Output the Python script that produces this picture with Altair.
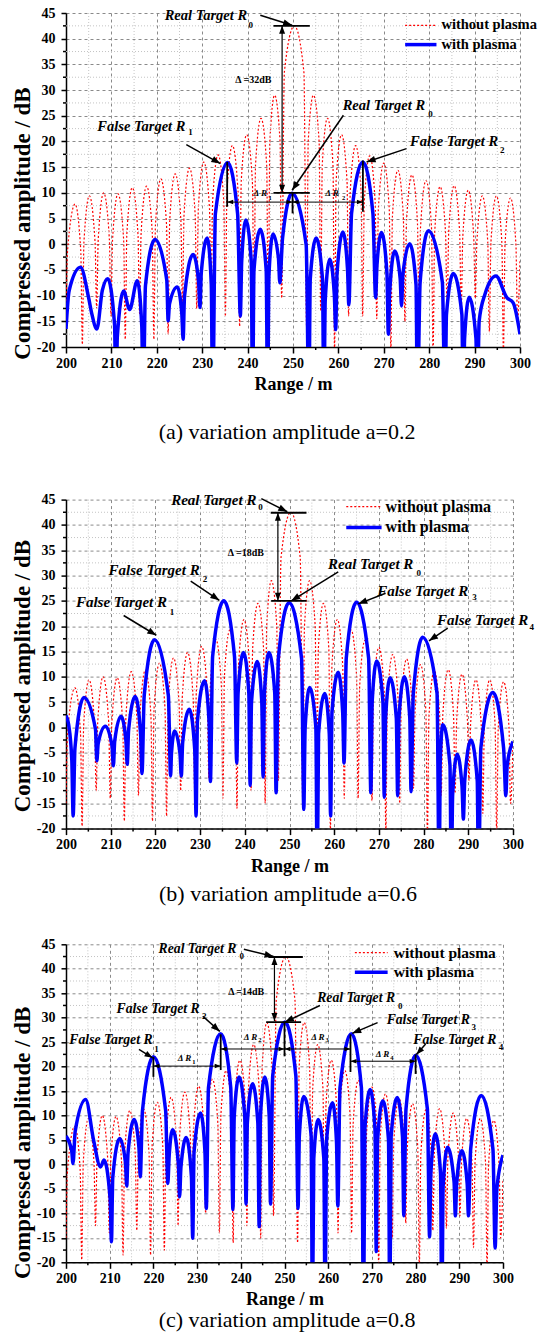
import math
import altair as alt
import pandas as pd

FONT = "Liberation Serif"
RED_COLOR = "#ff0000"
BLUE_COLOR = "#0000ff"

RANGE_MAJOR = [200, 210, 220, 230, 240, 250, 260, 270, 280, 290, 300]
RANGE_MINOR = [205, 215, 225, 235, 245, 255, 265, 275, 285, 295]
DB_MAJOR = [-20, -15, -10, -5, 0, 5, 10, 15, 20, 25, 30, 35, 40, 45]
DB_MINOR = [-17.5, -12.5, -7.5, -2.5, 2.5, 7.5, 12.5, 17.5, 22.5, 27.5, 32.5, 37.5, 42.5]

# "without plasma" (same in all three panels): (range m, dB)
RED_PTS = [(200.0, -15.0), (200.35, -1.2), (202.0, 7.8), (203.25, -1.2), (203.6, -19.5),
           (203.95, 0.4), (205.15, 9.4), (206.4, 0.4), (206.75, -12.5), (207.1, 1.0),
           (208.3, 10.0), (209.55, 1.0), (209.9, -14.0), (210.25, 0.8), (211.45, 9.8),
           (212.7, 0.8), (213.05, -18.5), (213.4, 2.0), (214.6, 11.0), (215.85, 2.0),
           (216.2, -13.5), (216.55, 2.3), (217.75, 11.3), (219.0, 2.3), (219.35, -18.5),
           (219.7, 3.7), (220.9, 12.7), (222.15, 3.7), (222.5, -17.5), (222.85, 4.7),
           (224.05, 13.7), (225.3, 4.7), (225.65, -12.5), (226.0, 5.8), (227.2, 14.8),
           (228.45, 5.8), (228.8, -12.5), (229.15, 7.0), (230.35, 16.0), (231.6, 7.0),
           (231.95, -10.0), (232.3, 8.4), (233.5, 17.4), (234.75, 8.4), (235.1, -14.0),
           (235.45, 10.2), (236.65, 19.2), (237.9, 10.2), (238.25, -16.0), (238.6, 12.3),
           (239.8, 21.3), (241.05, 12.3), (241.4, -12.5), (241.75, 15.5), (242.95, 24.5),
           (244.2, 15.5), (244.55, -15.0), (244.9, 20.0), (245.95, 29.0), (247.15, 20.0),
           (247.5, -10.5), (248.1, 33.5), (250.3, 42.5), (252.4, 33.5), (253.0, -16.0),
           (253.35, 20.0), (254.5, 29.0), (255.75, 20.0), (256.1, -13.0), (256.45, 15.5),
           (257.6, 24.5), (258.8, 15.5), (259.15, -20.5), (259.5, 12.3), (260.7, 21.3),
           (261.9, 12.3), (262.25, -14.0), (262.6, 10.2), (263.8, 19.2), (265.0, 10.2),
           (265.35, -14.0), (265.7, 8.2), (266.9, 17.2), (268.1, 8.2), (268.45, -14.5),
           (268.8, 6.8), (270.0, 15.8), (271.2, 6.8), (271.55, -20.5), (271.9, 5.4),
           (273.1, 14.4), (274.3, 5.4), (274.65, -15.0), (275.0, 4.5), (276.2, 13.5),
           (277.4, 4.5), (277.75, -12.0), (278.1, 3.4), (279.3, 12.4), (280.5, 3.4),
           (280.85, -21.0), (281.2, 2.2), (282.4, 11.2), (283.6, 2.2), (283.95, -13.5),
           (284.3, 2.4), (285.5, 11.4), (286.7, 2.4), (287.05, -13.0), (287.4, 1.5),
           (288.6, 10.5), (289.8, 1.5), (290.15, -10.5), (290.5, 0.4), (291.7, 9.4),
           (292.9, 0.4), (293.25, -17.0), (293.6, 0.4), (294.8, 9.4), (296.0, 0.4),
           (296.35, -21.0), (296.7, 0.0), (297.9, 9.0), (299.1, 0.0), (299.45, -15.0),
           (300.0, -3.0)]

# "with plasma", a = 0.2
BLUE_A = [(200.0, -16.5), (200.7, -9.0), (203.2, -4.5), (205.0, -10.5), (205.7, -13.6),
          (206.8, -16.5), (208.0, -9.0), (209.2, -6.7), (210.7, -15.7), (211.0, -32.0),
          (211.3, -18.1), (212.7, -9.1), (214.0, -12.7), (215.7, -7.1), (216.7, -16.1),
          (217.0, -32.0), (217.5, -8.1), (219.6, 0.9), (222.2, -7.0), (222.5, -14.9),
          (222.8, -11.6), (224.5, -8.3), (225.5, -13.4), (225.8, -18.5), (226.1, -10.2),
          (228.0, -2.0), (229.2, -7.2), (229.5, -12.3), (229.8, -5.5), (231.1, 1.2),
          (232.0, -7.8), (232.3, -32.0), (232.9, 5.9), (235.6, 15.9), (237.8, 5.9),
          (238.4, -14.0), (238.7, -3.3), (239.6, 4.7), (240.8, -3.3), (241.1, -32.0),
          (241.4, -5.1), (242.8, 2.9), (244.1, -5.1), (244.4, -32.0), (244.7, -6.0),
          (245.6, 2.0), (246.8, -2.75), (247.1, -7.5), (247.7, 1.2), (249.8, 9.9),
          (252.9, -0.1), (253.5, -32.0), (253.8, -6.8), (255.1, 1.2), (256.5, -6.8),
          (256.8, -32.0), (257.1, -10.9), (258.1, -2.9), (259.1, -9.75), (259.4, -16.6),
          (259.7, -5.6), (261.0, 2.4), (262.0, -4.7), (262.3, -11.8), (262.9, 6.0),
          (265.4, 16.0), (267.6, 6.0), (268.2, -10.4), (268.5, -4.0), (269.5, 2.3),
          (270.7, -5.7), (271.0, -17.5), (271.3, -9.3), (272.4, -1.3), (273.6, -6.65),
          (273.9, -12.0), (274.2, -5.95), (275.7, 0.1), (277.1, -7.9), (277.4, -32.0),
          (278.0, -7.4), (279.8, 2.6), (282.9, -7.4), (283.5, -32.0), (283.8, -13.7),
          (285.3, -5.7), (287.2, -13.7), (287.5, -32.0), (287.8, -18.3), (288.8, -10.3),
          (290.3, -18.3), (290.6, -32.0), (291.0, -15.0), (292.3, -9.7), (294.7, -6.2),
          (297.1, -10.4), (298.5, -11.4), (300.0, -17.5)]

# "with plasma", a = 0.6
BLUE_B = [(200.0, 2.3), (200.6, 0.5), (201.3, -6.5), (201.6, -17.5), (202.0, -4.1),
          (204.0, 5.9), (206.6, -0.4), (206.9, -6.6), (207.2, -3.2), (208.8, 0.2),
          (210.3, -3.7), (210.6, -7.6), (210.9, -2.7), (212.3, 2.2), (213.4, -2.55),
          (213.7, -7.3), (214.0, -0.6), (215.5, 6.1), (216.7, -1.5), (217.0, -9.1),
          (217.5, 6.3), (219.8, 17.3), (222.9, 6.3), (223.4, -9.6), (223.6, -5.1),
          (224.3, -0.7), (225.5, -5.15), (225.8, -9.6), (226.1, -3.0), (227.6, 3.6),
          (228.8, -4.4), (229.1, -17.5), (229.4, 1.2), (231.0, 9.2), (232.0, 1.2),
          (232.3, -10.7), (232.8, 14.0), (235.3, 25.0), (237.7, 14.0), (238.2, -7.1),
          (238.5, 6.8), (239.7, 14.8), (240.9, 6.8), (241.2, -11.5), (241.5, 5.0),
          (242.8, 13.0), (243.8, 5.0), (244.1, -9.8), (244.4, 6.8), (245.4, 14.8),
          (246.7, 6.8), (247.0, -12.9), (247.5, 13.6), (249.9, 24.6), (252.7, 13.6),
          (253.2, -16.2), (253.5, -0.1), (254.5, 7.9), (255.9, -0.1), (256.2, -32.0),
          (256.5, -1.3), (257.9, 6.7), (258.9, -1.3), (259.2, -17.5), (259.5, 2.9),
          (260.9, 10.9), (261.9, 2.9), (262.2, -7.1), (262.7, 13.7), (265.0, 24.7),
          (267.7, 13.7), (268.2, -12.9), (268.5, 5.1), (269.5, 13.1), (270.9, 5.1),
          (271.2, -13.8), (271.5, 1.8), (272.5, 9.8), (273.9, 1.8), (274.2, -13.5),
          (274.5, 2.0), (275.7, 10.0), (276.9, 2.0), (277.2, -12.7), (277.7, 6.8),
          (279.8, 17.8), (283.0, 6.8), (283.5, -32.0), (283.7, -7.5), (284.3, 0.5),
          (285.9, -7.5), (286.2, -32.0), (286.5, -13.3), (287.5, -5.3), (288.6, -11.7),
          (288.9, -18.1), (289.2, -10.5), (290.6, -2.5), (292.0, -10.5), (292.3, -32.0),
          (292.8, -4.1), (295.5, 6.9), (297.9, -4.1), (298.4, -13.5), (298.7, -7.5),
          (300.0, -2.8)]

# "with plasma", a = 0.8
BLUE_C = [(200.0, 5.8), (201.3, 2.8), (201.6, 0.2), (202.1, 6.75), (204.5, 13.3),
          (206.3, 5.0), (207.9, -0.5), (208.7, 0.9), (210.1, -7.1), (210.4, -15.8),
          (210.7, -2.7), (212.3, 5.3), (213.6, 0.45), (213.9, -4.4), (214.2, 2.4),
          (215.6, 9.2), (216.7, 3.35), (217.0, -2.5), (217.5, 11.0), (220.0, 22.0),
          (222.8, 11.0), (223.3, -3.9), (223.6, 1.6), (224.4, 7.1), (225.7, 0.25),
          (226.0, -6.6), (226.3, -0.55), (227.5, 5.5), (228.7, -2.5), (229.0, -15.1),
          (229.3, 2.5), (230.8, 10.5), (231.8, 2.5), (232.1, -9.0), (232.6, 15.7),
          (235.4, 26.7), (237.7, 15.7), (238.2, -9.2), (238.5, 9.9), (239.6, 17.9),
          (240.9, 9.9), (241.2, -8.1), (241.5, 8.5), (242.7, 16.5), (243.9, 8.5),
          (244.2, -12.7), (244.5, 9.9), (245.5, 17.9), (246.5, 9.9), (246.8, -8.1),
          (247.3, 18.1), (250.1, 29.1), (252.6, 18.1), (253.1, -9.0), (253.4, 5.9),
          (254.4, 13.9), (256.1, 5.9), (256.4, -32.0), (256.7, 1.2), (257.7, 9.2),
          (259.0, 1.2), (259.3, -32.0), (259.6, 4.6), (261.0, 12.6), (261.9, 4.6),
          (262.2, -8.5), (262.7, 15.7), (265.3, 26.7), (267.6, 15.7), (268.1, -32.0),
          (268.4, 7.3), (269.6, 15.3), (270.7, 7.3), (271.0, -17.8), (271.3, 5.0),
          (272.5, 13.0), (273.8, 5.0), (274.1, -32.0), (274.4, 5.7), (275.8, 13.7),
          (277.0, 5.7), (277.3, -10.5), (277.8, 11.3), (280.0, 22.3), (282.7, 11.3),
          (283.2, -14.8), (283.5, -1.7), (284.5, 6.3), (285.7, -1.7), (286.0, -32.0),
          (286.3, -4.5), (287.3, 3.5), (288.8, -3.5), (289.1, -10.5), (289.4, -3.85),
          (290.6, 2.8), (291.8, -3.85), (292.1, -10.5), (292.6, 3.1), (295.0, 14.1),
          (297.7, 3.1), (298.2, -17.1), (298.6, -5.0), (300.0, 1.9)]

# ---- annotations (data coordinates) ----
# segments: x1, y1, x2, y2, stroke width, arrow head ("", "end", "both"), head size
SEG_A = [(242.8, 44.55, 249.8, 42.6, 1.5, "end", 81),
         (245.7, 42.5, 253.7, 42.5, 1.8, "", 0),
         (247.6, 42.5, 247.6, 10.0, 1.2, "both", 64),
         (245.7, 10.0, 253.7, 10.0, 1.8, "", 0),
         (261.1, 25.1, 249.8, 10.5, 1.5, "end", 81),
         (226.5, 19.4, 234.0, 15.7, 1.5, "end", 81),
         (275.0, 18.6, 266.2, 16.0, 1.5, "end", 81),
         (235.5, 16.0, 235.5, 7.3, 1.8, "", 0),
         (249.9, 10.0, 249.9, 6.0, 1.8, "", 0),
         (265.4, 16.3, 265.4, 6.3, 1.8, "", 0),
         (235.5, 8.2, 249.9, 8.2, 1.0, "both", 36),
         (249.9, 8.2, 265.4, 8.2, 1.0, "both", 36)]
LBL_A = [(239.9, 44.4, "Real Target R"), (279.1, 26.85, "Real Target R"),
         (226.3, 22.8, "False Target R"), (295.2, 19.9, "False Target R")]
SUB_A = [(240.2, 42.6, "0"), (279.8, 25.4, "0"), (226.9, 21.85, "1"), (295.6, 18.3, "2")]
DB_A = [(237.3, 31.9, "Δ =32dB")]
DR_A = [(241.3, 9.9, "Δ R"), (257.1, 9.9, "Δ R")]
DRS_A = [(244.6, 9.0, "1"), (260.8, 9.0, "2")]
LEG_A = (274.7, 281.6, 282.7, 42.6, 38.85, 14.5)

SEG_B = [(243.7, 45.2, 249.5, 42.6, 1.5, "end", 81),
         (245.8, 42.4, 253.8, 42.4, 1.8, "", 0),
         (247.4, 42.4, 247.4, 25.0, 1.2, "both", 64),
         (245.9, 25.0, 253.8, 25.0, 1.8, "", 0),
         (260.9, 30.7, 250.4, 25.0, 1.5, "end", 81),
         (212.9, 22.1, 220.2, 18.2, 1.5, "end", 81),
         (227.9, 28.9, 234.3, 25.1, 1.5, "end", 81),
         (271.5, 26.5, 265.4, 24.4, 1.5, "end", 81),
         (285.4, 19.6, 281.2, 17.1, 1.5, "end", 81)]
LBL_B = [(242.6, 45.0, "Real Target R"), (277.7, 32.2, "Real Target R"),
         (222.6, 24.8, "False Target R"), (229.9, 31.1, "False Target R"),
         (290.0, 27.0, "False Target R"), (303.4, 21.2, "False Target R")]
SUB_B = [(243.0, 43.5, "0"), (278.4, 30.5, "0"), (223.2, 22.8, "1"), (230.6, 29.4, "2"),
         (290.9, 25.8, "3"), (303.7, 19.9, "4")]
DB_B = [(236.2, 34.5, "Δ =18dB")]
DR_B = []
DRS_B = []
LEG_B = (262.7, 270.6, 271.5, 43.6, 39.5, 16)

SEG_C = [(240.7, 44.0, 247.5, 42.5, 1.5, "end", 81),
         (246.3, 42.4, 254.2, 42.4, 1.8, "", 0),
         (247.7, 42.4, 247.7, 29.3, 1.2, "both", 64),
         (245.8, 29.1, 253.8, 29.1, 1.8, "", 0),
         (258.1, 32.5, 250.1, 29.1, 1.5, "end", 81),
         (216.7, 23.5, 219.8, 21.8, 1.5, "end", 64),
         (231.3, 30.3, 235.2, 27.2, 1.5, "end", 81),
         (271.3, 29.0, 265.5, 26.8, 1.5, "end", 81),
         (282.3, 24.6, 280.2, 22.5, 1.5, "end", 64),
         (220.0, 22.0, 220.0, 17.9, 1.8, "", 0),
         (235.4, 26.6, 235.4, 19.3, 1.8, "", 0),
         (250.0, 29.1, 250.0, 22.1, 1.8, "", 0),
         (265.1, 26.6, 265.1, 18.9, 1.8, "", 0),
         (280.0, 22.5, 280.0, 18.5, 1.8, "", 0),
         (220.0, 20.1, 235.4, 20.1, 1.0, "both", 36),
         (235.4, 23.6, 250.0, 23.6, 1.0, "both", 36),
         (250.0, 23.6, 265.1, 23.6, 1.0, "both", 36),
         (265.1, 21.1, 280.0, 21.1, 1.0, "both", 36)]
LBL_C = [(239.0, 44.1, "Real Target R"), (275.3, 34.0, "Real Target R"),
         (219.8, 25.4, "False Target R"), (230.6, 31.7, "False Target R"),
         (292.4, 29.5, "False Target R"), (298.5, 25.4, "False Target R")]
SUB_C = [(239.7, 42.7, "0"), (276.0, 32.3, "0"), (220.2, 23.7, "1"), (231.1, 30.3, "2"),
         (292.8, 28.0, "3"), (299.0, 24.0, "4")]
DB_C = [(237.1, 35.3, "Δ =14dB")]
DR_C = [(225.6, 21.7, "Δ R"), (240.7, 26.1, "Δ R"), (256.1, 26.1, "Δ R"), (270.9, 22.5, "Δ R")]
DRS_C = [(228.9, 21.0, "1"), (244.0, 25.4, "2"), (259.4, 25.4, "3"), (274.2, 21.8, "4")]
LEG_C = (266.1, 273.6, 275.0, 43.3, 39.3, 15.5)

ARROW = "M0,0L-2,-0.75L-2,0.75Z"


def txt_df(rows):
    return pd.DataFrame(rows if rows else [(0.0, 0.0, "")], columns=["x", "y", "t"])


def make_panel(blue, W, H, segs, lbls, lbl_fs, subs, dbl, drl, drs, leg,
               caption, cap_x, cap_y, yt_x, yt_y):
    xs = alt.Scale(domain=[200, 300], nice=False, zero=False)
    ys = alt.Scale(domain=[-20, 45], nice=False, zero=False)
    common = dict(labelFlush=False, labelOverlap=False, labelFont=FONT, labelFontSize=14,
                  labelFontWeight="bold", labelColor="black",
                  labelExpr="'' + datum.value",
                  tickColor="black", tickWidth=1.5, domainColor="black", domainWidth=1.5,
                  grid=True, gridWidth=1, gridColor="#8a8a8a", gridDash=[3, 3],
                  titleFont=FONT, titleFontWeight="bold", titleColor="black")
    xaxis = alt.Axis(values=RANGE_MAJOR, labelPadding=3, tickSize=6,
                     title="Range / m", titleFontSize=18, titleX=W / 2, titleY=42.5,
                     titleBaseline="alphabetic", titleAlign="center", **common)
    yaxis = alt.Axis(values=DB_MAJOR, labelPadding=6, tickSize=5,
                     title="Compressed amplitude / dB", titleFontSize=23, titleAngle=270,
                     titleX=yt_x, titleY=yt_y, titleAlign="center", titleBaseline="middle",
                     **common)

    X = alt.X("x:Q", scale=xs, axis=xaxis)
    Y = alt.Y("y:Q", scale=ys, axis=yaxis)

    red = alt.Chart(pd.DataFrame(RED_PTS, columns=["x", "y"])).mark_line(
        color=RED_COLOR, strokeWidth=1.2, strokeDash=[2, 2], interpolate="monotone",
        clip=True).encode(x=X, y=Y)

    # minor grid lines and minor ticks
    vgrid = alt.Chart(pd.DataFrame({"x": RANGE_MINOR})).mark_rule(
        color="#c4c4c4", strokeWidth=1, strokeDash=[1, 2]).encode(x=X)
    hgrid = alt.Chart(pd.DataFrame({"y": DB_MINOR})).mark_rule(
        color="#c4c4c4", strokeWidth=1, strokeDash=[1, 2]).encode(y=Y)
    xtick = alt.Chart(pd.DataFrame({"x": RANGE_MINOR})).mark_rule(
        color="black", strokeWidth=1.5).encode(x=X, y=alt.value(H), y2=alt.value(H + 3))
    ytick = alt.Chart(pd.DataFrame({"y": DB_MINOR})).mark_rule(
        color="black", strokeWidth=1.5).encode(y=Y, x=alt.value(-3), x2=alt.value(0))

    bl = alt.Chart(pd.DataFrame(blue, columns=["x", "y"])).mark_line(
        color=BLUE_COLOR, strokeWidth=3.5, interpolate="monotone", clip=True
    ).encode(x=X, y=Y)

    seg_df = pd.DataFrame([(s[0], s[1], s[2], s[3], s[4]) for s in segs],
                          columns=["x", "y", "x2", "y2", "w"])
    rules = alt.Chart(seg_df).mark_rule(color="black").encode(
        x=X, y=Y, x2="x2:Q", y2="y2:Q", strokeWidth=alt.StrokeWidth("w:Q", scale=None))

    heads = []
    for x1, y1, x2, y2, w, hd, hs in segs:
        if not hd:
            continue
        dx = (x2 - x1) * W / 100.0
        dy = -(y2 - y1) * H / 65.0
        ang = math.degrees(math.atan2(dy, dx)) % 360
        heads.append((x2, y2, ang, hs))
        if hd == "both":
            heads.append((x1, y1, (ang + 180) % 360, hs))
    head_df = pd.DataFrame(heads, columns=["x", "y", "ang", "s"])
    arrowheads = alt.Chart(head_df).mark_point(
        shape=ARROW, filled=True, color="black", opacity=1, strokeWidth=0
    ).encode(x=X, y=Y, angle=alt.Angle("ang:Q", scale=None),
             size=alt.Size("s:Q", scale=None))

    labels = alt.Chart(txt_df(lbls)).mark_text(
        font=FONT, fontSize=lbl_fs, fontStyle="italic", fontWeight="bold",
        align="right", baseline="middle", color="black").encode(x=X, y=Y, text="t:N")
    sublabels = alt.Chart(txt_df(subs)).mark_text(
        font=FONT, fontSize=9, fontWeight="bold", align="left", baseline="middle",
        color="black").encode(x=X, y=Y, text="t:N")
    dblabel = alt.Chart(txt_df(dbl)).mark_text(
        font=FONT, fontSize=10, fontWeight="bold", align="left", baseline="middle",
        color="black").encode(x=X, y=Y, text="t:N")
    drlabel = alt.Chart(txt_df(drl)).mark_text(
        font=FONT, fontSize=9, fontStyle="italic", fontWeight="bold", align="left",
        baseline="middle", color="black").encode(x=X, y=Y, text="t:N")
    drsub = alt.Chart(txt_df(drs)).mark_text(
        font=FONT, fontSize=6.5, fontWeight="bold", align="left", baseline="middle",
        color="black").encode(x=X, y=Y, text="t:N")

    lx1, lx2, lxt, lyr, lyb, lfs = leg
    leg_red = alt.Chart(pd.DataFrame({"x": [lx1], "x2": [lx2], "y": [lyr]})).mark_rule(
        color=RED_COLOR, strokeWidth=1.2, strokeDash=[2, 2]).encode(x=X, x2="x2:Q", y=Y)
    leg_blue = alt.Chart(pd.DataFrame({"x": [lx1], "x2": [lx2], "y": [lyb]})).mark_rule(
        color=BLUE_COLOR, strokeWidth=3.5).encode(x=X, x2="x2:Q", y=Y)
    leg_txt = alt.Chart(pd.DataFrame({"x": [lxt, lxt], "y": [lyr, lyb],
                                      "t": ["without plasma", "with plasma"]})).mark_text(
        font=FONT, fontSize=lfs, fontWeight="bold", align="left", baseline="middle",
        color="black").encode(x=X, y=Y, text="t:N")

    cap = alt.Chart(pd.DataFrame({"t": [caption]})).mark_text(
        font=FONT, fontSize=22, align="center", baseline="alphabetic", color="black"
    ).encode(x=alt.value(cap_x), y=alt.value(cap_y), text="t:N")

    layers = [red, vgrid, hgrid, xtick, ytick, bl, rules, arrowheads, labels, sublabels,
              dblabel]
    if drl:
        layers += [drlabel, drsub]
    layers += [leg_red, leg_blue, leg_txt, cap]
    return alt.layer(*layers).properties(width=W, height=H)


pa = make_panel(BLUE_A, 454, 334, SEG_A, LBL_A, 14.5, SUB_A, DB_A, DR_A, DRS_A, LEG_A,
                "(a) variation amplitude a=0.2", 221, 426, -44, 210)
pb = make_panel(BLUE_B, 447, 329, SEG_B, LBL_B, 15, SUB_B, DB_B, DR_B, DRS_B, LEG_B,
                "(b) variation amplitude a=0.6", 222, 401, -44, 176)
pc = make_panel(BLUE_C, 437, 318, SEG_C, LBL_C, 13.7, SUB_C, DB_C, DR_C, DRS_C, LEG_C,
                "(c) variation amplitude a=0.8", 221, 383, -44, 198)

inner = alt.vconcat(pb, pc, spacing=115.7, bounds="flush")
chart = alt.vconcat(pa, inner, spacing=152.6, bounds="flush").properties(
    padding={"left": 10, "top": 5, "right": 0, "bottom": 0}
).configure_view(stroke="transparent").configure_axis(labelOverlap=False)

chart.save("out.html", embed_options={"renderer": "svg", "actions": False})
